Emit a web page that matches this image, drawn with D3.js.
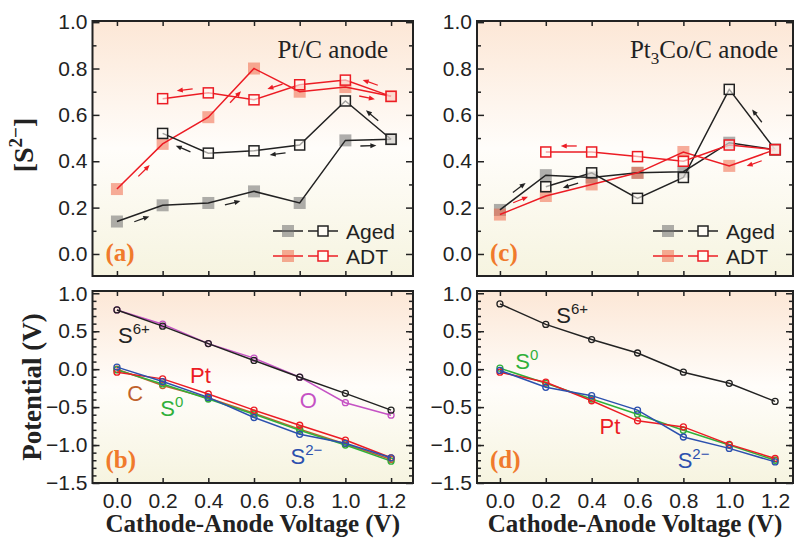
<!DOCTYPE html>
<meta charset="utf-8">
<body style="margin:0;background:#fff">
<div id="chart"></div>
<script src="https://d3js.org/d3.v7.min.js"></script>
<script>
// cathode-anode voltage steps (forward sweep, then the way back)
var volts = [0, 0.2, 0.4, 0.6, 0.8, 1.0, 1.2];
var voltsBack = [1.2, 1.0, 0.8, 0.6, 0.4, 0.2];

// [S2-] fraction, Pt/C anode
var ptcAgedUp = [0.14, 0.21, 0.22, 0.27, 0.22, 0.49, 0.495];
var ptcAgedDown = [0.495, 0.66, 0.47, 0.445, 0.435, 0.52];
var ptcAdtUp = [0.28, 0.475, 0.59, 0.80, 0.70, 0.72, 0.68];
var ptcAdtDown = [0.68, 0.75, 0.73, 0.665, 0.695, 0.67];

// [S2-] fraction, Pt3Co/C anode
var ptcoAgedUp = [0.19, 0.34, 0.33, 0.35, 0.355, 0.48, 0.45];
var ptcoAgedDown = [0.45, 0.71, 0.33, 0.24, 0.35, 0.29];
var ptcoAdtUp = [0.17, 0.25, 0.30, 0.35, 0.44, 0.38, 0.45];
var ptcoAdtDown = [0.45, 0.47, 0.40, 0.42, 0.44, 0.44];

// potentials (V), Pt/C anode
var ptcS6 = [0.78, 0.567, 0.337, 0.115, -0.106, -0.319, -0.54];
var ptcO = [0.78, 0.593, 0.337, 0.146, -0.106, -0.442, -0.606];
var ptcC = [0.0, -0.216, -0.38, -0.58, -0.79, -0.985, -1.19];
var ptcS0 = [-0.01, -0.195, -0.393, -0.593, -0.805, -1.0, -1.212];
var ptcPt = [-0.04, -0.128, -0.327, -0.54, -0.739, -0.934, -1.168];
var ptcS2 = [0.027, -0.163, -0.372, -0.637, -0.858, -0.977, -1.168];

// potentials (V), Pt3Co/C anode
var ptcoS6 = [0.86, 0.59, 0.39, 0.213, -0.04, -0.186, -0.425];
var ptcoS0 = [0.013, -0.186, -0.393, -0.593, -0.805, -1.0, -1.2];
var ptcoPt = [-0.04, -0.172, -0.416, -0.681, -0.761, -0.991, -1.177];
var ptcoS2 = [-0.017, -0.239, -0.349, -0.54, -0.894, -1.044, -1.222];

var topTicks = [0, 0.2, 0.4, 0.6, 0.8, 1.0];
var topMinor = [0.1, 0.3, 0.5, 0.7, 0.9];
var botTicks = [-1.5, -1.0, -0.5, 0, 0.5, 1.0];
var botMinor = d3.range(-14, 10).map(function(d) { return d / 10; });
var xTicks = [0, 0.2, 0.4, 0.6, 0.8, 1.0, 1.2];

var black = "#222", red = "#ec1c24";
var sans = "Liberation Sans, Arial, sans-serif";
var serif = "Liberation Serif, Times New Roman, serif";

var svg = d3.select("#chart").append("svg")
  .attr("width", 796)
  .attr("height", 539);

var grad = svg.append("defs").append("linearGradient")
  .attr("id", "bg")
  .attr("x1", 0).attr("y1", 0).attr("x2", 0).attr("y2", 1);
grad.append("stop").attr("offset", "0%").attr("stop-color", "#fce7d6");
grad.append("stop").attr("offset", "50%").attr("stop-color", "#fffdfa");
grad.append("stop").attr("offset", "100%").attr("stop-color", "#f6f4e0");

function makePanel(p) {
  var x = d3.scaleLinear().domain(p.xd).range([p.x0, p.x1]);
  var y = d3.scaleLinear().domain(p.yd).range([p.y1, p.y0]);
  var g = svg.append("g");

  g.append("rect")
    .attr("x", p.x0).attr("y", p.y0)
    .attr("width", p.x1 - p.x0).attr("height", p.y1 - p.y0)
    .attr("fill", "url(#bg)");

  // inward ticks on all four sides
  g.append("g").attr("transform", "translate(" + p.x0 + ",0)")
    .call(d3.axisLeft(y).tickValues(p.major).tickSizeInner(-7).tickSizeOuter(0)
      .tickPadding(5).tickFormat(d3.format(".1f")));
  g.append("g").attr("transform", "translate(" + p.x0 + ",0)")
    .call(d3.axisLeft(y).tickValues(p.minor).tickSizeInner(-4).tickSizeOuter(0).tickFormat(""));
  g.append("g").attr("transform", "translate(" + p.x1 + ",0)")
    .call(d3.axisRight(y).tickValues(p.major).tickSizeInner(-7).tickSizeOuter(0).tickFormat(""));
  g.append("g").attr("transform", "translate(" + p.x1 + ",0)")
    .call(d3.axisRight(y).tickValues(p.minor).tickSizeInner(-4).tickSizeOuter(0).tickFormat(""));
  g.append("g").attr("transform", "translate(0," + p.y1 + ")")
    .call(d3.axisBottom(x).tickValues(xTicks).tickSizeInner(-5).tickSizeOuter(0)
      .tickPadding(10).tickFormat(p.xLabels ? d3.format(".1f") : ""));
  g.append("g").attr("transform", "translate(0," + p.y0 + ")")
    .call(d3.axisTop(x).tickValues(xTicks).tickSizeInner(-5).tickSizeOuter(0).tickFormat(""));

  g.selectAll(".domain").remove();
  g.selectAll(".tick line").attr("stroke", black).attr("stroke-width", 1.5);
  g.selectAll(".tick text").attr("fill", black).style("font-family", sans).style("font-size", "21px");

  g.append("rect")
    .attr("x", p.x0).attr("y", p.y0)
    .attr("width", p.x1 - p.x0).attr("height", p.y1 - p.y0)
    .attr("fill", "none").attr("stroke", black).attr("stroke-width", 2);

  g.append("text")
    .attr("x", p.x0 + 13).attr("y", p.y1 - 15)
    .style("font-family", serif).style("font-weight", "bold").style("font-size", "25px")
    .attr("fill", "#f07a2c")
    .text(p.tag);

  return {g: g, x: x, y: y, p: p};
}

var pa = makePanel({x0: 92.5, x1: 413, y0: 21, y1: 276, xd: [-0.107, 1.296], yd: [-0.095, 1.005],
  major: topTicks, minor: topMinor, tag: "(a)"});
var pc = makePanel({x0: 477, x1: 793, y0: 21, y1: 276, xd: [-0.1, 1.278], yd: [-0.095, 1.005],
  major: topTicks, minor: topMinor, tag: "(c)"});
var pb = makePanel({x0: 92.5, x1: 413, y0: 291, y1: 483, xd: [-0.107, 1.296], yd: [-1.5, 1.03],
  major: botTicks, minor: botMinor, tag: "(b)", xLabels: true});
var pd = makePanel({x0: 477, x1: 793, y0: 291, y1: 483, xd: [-0.1, 1.278], yd: [-1.5, 1.03],
  major: botTicks, minor: botMinor, tag: "(d)", xLabels: true});

// ---------- [S2-] panels ----------
function sweepPanel(P, series, arrows) {
  var g = P.g, x = P.x, y = P.y;
  var line = d3.line().x(function(d) { return x(d[0]); }).y(function(d) { return y(d[1]); });
  var pts = {};
  series.forEach(function(s) { pts[s.key] = d3.zip(s.xs, s.ys); });

  series.filter(function(s) { return s.filled; }).forEach(function(s) {
    g.selectAll(null).data(pts[s.key]).enter().append("rect")
      .attr("x", function(d) { return x(d[0]) - 6; })
      .attr("y", function(d) { return y(d[1]) - 6; })
      .attr("width", 12).attr("height", 12)
      .attr("fill", s.fill).attr("opacity", 0.55);
  });
  series.forEach(function(s) {
    g.append("path").attr("d", line(pts[s.key]))
      .attr("fill", "none").attr("stroke", s.color).attr("stroke-width", 1.5);
  });
  series.filter(function(s) { return !s.filled; }).forEach(function(s) {
    g.selectAll(null).data(pts[s.key]).enter().append("rect")
      .attr("x", function(d) { return x(d[0]) - 5; })
      .attr("y", function(d) { return y(d[1]) - 5; })
      .attr("width", 10).attr("height", 10)
      .attr("fill", "#fffcf6").attr("fill-opacity", 0.6)
      .attr("stroke", s.color).attr("stroke-width", 1.5);
  });

  // little direction arrows beside a segment
  arrows.forEach(function(a) {
    var s = series.filter(function(d) { return d.key === a.s; })[0];
    var p1 = pts[a.s][a.seg], p2 = pts[a.s][a.seg + 1];
    var ax = x(p1[0]), ay = y(p1[1]), bx = x(p2[0]), by = y(p2[1]);
    var dx = bx - ax, dy = by - ay, len = Math.sqrt(dx * dx + dy * dy);
    var ux = dx / len * a.dir, uy = dy / len * a.dir;
    // normal pointing "up" on screen
    var lx = Math.abs(dx) / len, ly = (dx >= 0 ? dy : -dy) / len;
    var nx = ly, ny = -lx;
    var mx = (ax + bx) / 2 + nx * 6 * a.side, my = (ay + by) / 2 + ny * 6 * a.side;
    var h = 8;
    var tx = mx + ux * h, ty = my + uy * h;
    g.append("line")
      .attr("x1", mx - ux * h).attr("y1", my - uy * h)
      .attr("x2", tx - ux * 4).attr("y2", ty - uy * 4)
      .attr("stroke", s.color).attr("stroke-width", 1.3);
    g.append("path")
      .attr("d", "M" + tx + "," + ty +
        "L" + (tx - ux * 6 - uy * 2.5) + "," + (ty - uy * 6 + ux * 2.5) +
        "L" + (tx - ux * 6 + uy * 2.5) + "," + (ty - uy * 6 - ux * 2.5) + "Z")
      .attr("fill", s.color);
  });
}

sweepPanel(pa, [
  {key: "agedUp", xs: volts, ys: ptcAgedUp, color: black, fill: "#6d6d6d", filled: true},
  {key: "adtUp", xs: volts, ys: ptcAdtUp, color: red, fill: "#f06a4a", filled: true},
  {key: "agedDown", xs: voltsBack, ys: ptcAgedDown, color: black},
  {key: "adtDown", xs: voltsBack, ys: ptcAdtDown, color: red}
], [
  {s: "agedUp", seg: 0, side: -1, dir: 1},
  {s: "agedUp", seg: 2, side: -1, dir: 1},
  {s: "agedUp", seg: 5, side: -1, dir: 1},
  {s: "agedDown", seg: 0, side: 1, dir: 1},
  {s: "agedDown", seg: 2, side: -1, dir: 1},
  {s: "agedDown", seg: 4, side: -1, dir: 1},
  {s: "adtUp", seg: 0, side: -1, dir: 1},
  {s: "adtUp", seg: 2, side: -1, dir: 1},
  {s: "adtUp", seg: 5, side: -1, dir: 1},
  {s: "adtDown", seg: 0, side: 1, dir: 1},
  {s: "adtDown", seg: 2, side: 1, dir: 1},
  {s: "adtDown", seg: 4, side: 1, dir: 1}
]);

sweepPanel(pc, [
  {key: "agedUp", xs: volts, ys: ptcoAgedUp, color: black, fill: "#6d6d6d", filled: true},
  {key: "adtUp", xs: volts, ys: ptcoAdtUp, color: red, fill: "#f06a4a", filled: true},
  {key: "agedDown", xs: voltsBack, ys: ptcoAgedDown, color: black},
  {key: "adtDown", xs: voltsBack, ys: ptcoAdtDown, color: red}
], [
  {s: "agedUp", seg: 0, side: 1, dir: 1},
  {s: "agedDown", seg: 0, side: 1, dir: 1},
  {s: "agedDown", seg: 4, side: -1, dir: 1},
  {s: "adtUp", seg: 0, side: 1, dir: 1},
  {s: "adtUp", seg: 5, side: -1, dir: -1},
  {s: "adtDown", seg: 4, side: 1, dir: 1}
]);

// legends and titles of the [S2-] panels
[pa, pc].forEach(function(P) {
  var g = P.g, lx = P.p.x1 - 140;
  [{name: "Aged", color: black, fill: "#6d6d6d", y: 231},
   {name: "ADT", color: red, fill: "#f06a4a", y: 256}].forEach(function(d) {
    g.append("line").attr("x1", lx).attr("x2", lx + 30).attr("y1", d.y).attr("y2", d.y)
      .attr("stroke", d.color).attr("stroke-width", 1.5);
    g.append("rect").attr("x", lx + 9).attr("y", d.y - 6).attr("width", 12).attr("height", 12)
      .attr("fill", d.fill).attr("opacity", 0.55);
    g.append("line").attr("x1", lx + 35).attr("x2", lx + 65).attr("y1", d.y).attr("y2", d.y)
      .attr("stroke", d.color).attr("stroke-width", 1.5);
    g.append("rect").attr("x", lx + 45).attr("y", d.y - 5).attr("width", 10).attr("height", 10)
      .attr("fill", "#fffcf6").attr("stroke", d.color).attr("stroke-width", 1.5);
    g.append("text").attr("x", lx + 73).attr("y", d.y + 7.5)
      .style("font-family", sans).style("font-size", "21px").attr("fill", black)
      .text(d.name);
  });
});

pa.g.append("text").attr("x", 388).attr("y", 58).attr("text-anchor", "end")
  .style("font-family", serif).style("font-size", "25px").attr("fill", black)
  .text("Pt/C anode");
var tc = pc.g.append("text").attr("x", 778).attr("y", 58).attr("text-anchor", "end")
  .style("font-family", serif).style("font-size", "25px").attr("fill", black);
tc.append("tspan").text("Pt");
tc.append("tspan").attr("dy", 6).style("font-size", "17px").text("3");
tc.append("tspan").attr("dy", -6).text("Co/C anode");

// ---------- potential panels ----------
function potPanel(P, series, labels) {
  var g = P.g, x = P.x, y = P.y;
  var line = d3.line().x(function(d) { return x(d[0]); }).y(function(d) { return y(d[1]); });
  series.forEach(function(s) {
    var pts = d3.zip(volts, s.ys);
    g.append("path").attr("d", line(pts))
      .attr("fill", "none").attr("stroke", s.color).attr("stroke-width", 1.5);
    g.selectAll(null).data(pts).enter().append("circle")
      .attr("cx", function(d) { return x(d[0]); })
      .attr("cy", function(d) { return y(d[1]); })
      .attr("r", 3).attr("fill", "none")
      .attr("stroke", s.color).attr("stroke-width", 1.3);
  });
  labels.forEach(function(l) {
    var t = g.append("text").attr("x", x(l.x)).attr("y", y(l.y))
      .style("font-family", sans).style("font-size", "22px").attr("fill", l.color);
    t.append("tspan").text(l.base);
    if (l.sup) t.append("tspan").attr("dy", -9).style("font-size", "15px").text(l.sup);
  });
}

potPanel(pb, [
  {ys: ptcO, color: "#c552c4"},
  {ys: ptcS6, color: black},
  {ys: ptcC, color: "#c0622c"},
  {ys: ptcS0, color: "#2fb03a"},
  {ys: ptcPt, color: red},
  {ys: ptcS2, color: "#2c50ae"}
], [
  {base: "S", sup: "6+", x: 0.005, y: 0.345, color: black},
  {base: "Pt", x: 0.32, y: -0.177, color: red},
  {base: "C", x: 0.045, y: -0.416, color: "#c0622c"},
  {base: "S", sup: "0", x: 0.19, y: -0.615, color: "#2fb03a"},
  {base: "O", x: 0.80, y: -0.51, color: "#c552c4"},
  {base: "S", sup: "2−", x: 0.76, y: -1.252, color: "#2c50ae"}
]);

potPanel(pd, [
  {ys: ptcoS6, color: black},
  {ys: ptcoS0, color: "#2fb03a"},
  {ys: ptcoPt, color: red},
  {ys: ptcoS2, color: "#2c50ae"}
], [
  {base: "S", sup: "6+", x: 0.246, y: 0.607, color: black},
  {base: "S", sup: "0", x: 0.067, y: -0.004, color: "#2fb03a"},
  {base: "Pt", x: 0.434, y: -0.853, color: red},
  {base: "S", sup: "2−", x: 0.775, y: -1.305, color: "#2c50ae"}
]);

// ---------- axis titles ----------
[pb, pd].forEach(function(P) {
  svg.append("text")
    .attr("x", (P.p.x0 + P.p.x1) / 2).attr("y", 532)
    .attr("text-anchor", "middle")
    .style("font-family", serif).style("font-weight", "bold").style("font-size", "25px")
    .attr("fill", black)
    .text("Cathode-Anode Voltage (V)");
});

svg.append("text")
  .attr("transform", "translate(41,387) rotate(-90)")
  .attr("text-anchor", "middle")
  .style("font-family", serif).style("font-weight", "bold").style("font-size", "27px")
  .attr("fill", black)
  .text("Potential (V)");

var ys = svg.append("text")
  .attr("transform", "translate(33,145) rotate(-90)")
  .attr("text-anchor", "middle")
  .style("font-family", serif).style("font-weight", "bold").style("font-size", "28px")
  .attr("fill", black);
ys.append("tspan").text("[S");
ys.append("tspan").attr("dy", -11).style("font-size", "19px").text("2−");
ys.append("tspan").attr("dy", 11).text("]");
</script>
